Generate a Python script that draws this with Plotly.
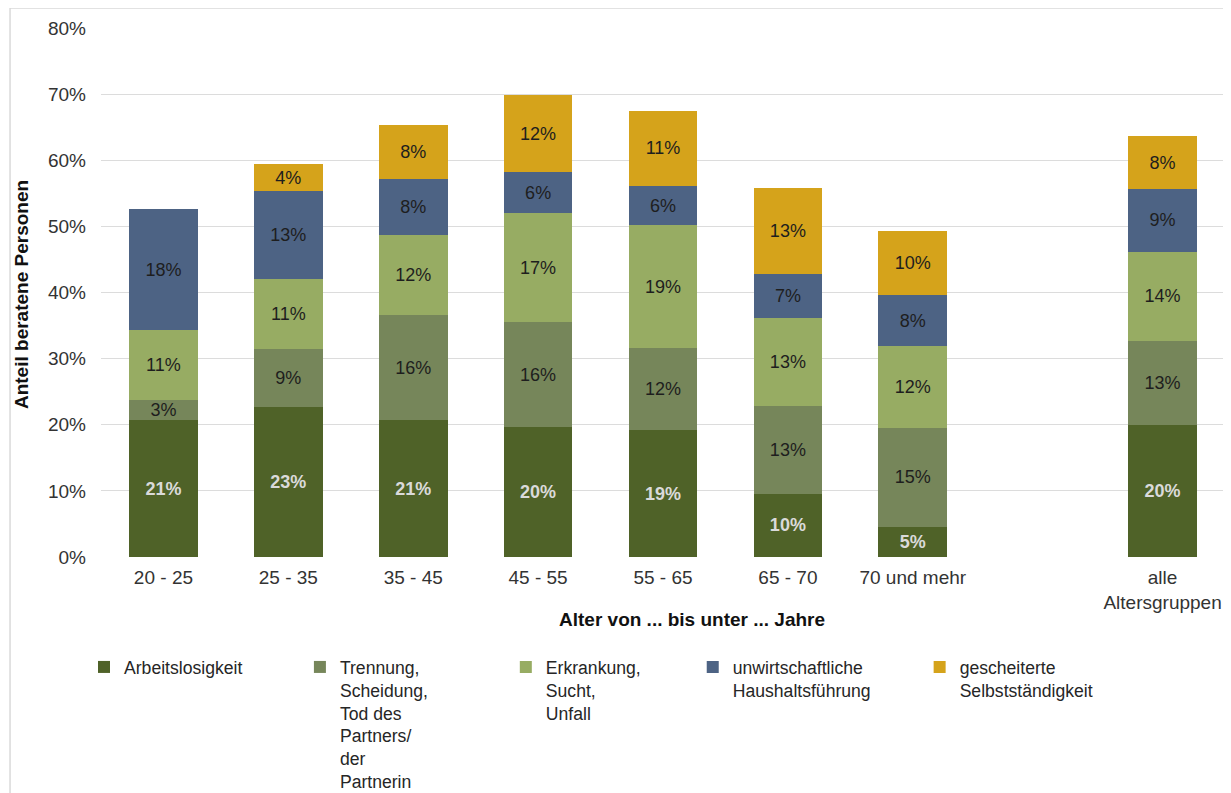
import plotly.graph_objects as go

categories = ["20 - 25", "25 - 35", "35 - 45", "45 - 55", "55 - 65", "65 - 70",
              "70 und mehr", " ", "alle<br>Altersgruppen"]
arbeitslosigkeit = [20.7, 22.7, 20.7, 19.6, 19.2, 9.6, 4.6, None, 20.0]
trennung = [3.0, 8.7, 15.9, 15.9, 12.4, 13.2, 14.9, None, 12.6]
erkrankung = [10.6, 10.6, 12.1, 16.5, 18.6, 13.4, 12.4, None, 13.6]
haushalt = [18.3, 13.3, 8.4, 6.2, 5.9, 6.6, 7.7, None, 9.4]
selbst = [None, 4.1, 8.3, 11.6, 11.4, 13.0, 9.7, None, 8.1]

series_names = ["Arbeitslosigkeit",
                "Trennung,<br>Scheidung,<br>Tod des<br>Partners/<br>der<br>Partnerin",
                "Erkrankung,<br>Sucht,<br>Unfall",
                "unwirtschaftliche<br>Haushaltsführung",
                "gescheiterte<br>Selbstständigkeit"]
series_values = [arbeitslosigkeit, trennung, erkrankung, haushalt, selbst]
colors = ["#4F6228", "#76865A", "#97AC63", "#4D6384", "#D5A31B"]
label_colors = ["#DADADA", "#1E1E1E", "#1E1E1E", "#1E1E1E", "#1E1E1E"]
label_weights = ["bold", "normal", "normal", "normal", "normal"]
legend_ids = ["legend", "legend2", "legend3", "legend4", "legend5"]

FONT = "Liberation Sans, Arial, sans-serif"
OFF = 8  # page body margin offset
W, H = 1231 - OFF, 793 - OFF
L = 101 - OFF
R = W - (1225.5 - OFF)
T = 28 - OFF
B = H - (557 - OFF)
PW, PH = W - L - R, H - T - B


def px_x(p):
    return (p - OFF - L) / PW


def px_y(p):
    return (557 - p) / PH


fig = go.Figure()
for name, vals, col, lc, lw, lid in zip(series_names, series_values, colors,
                                         label_colors, label_weights, legend_ids):
    fig.add_trace(go.Bar(
        x=categories, y=vals, name=name, marker=dict(color=col, line=dict(width=0)),
        texttemplate="%{y:.0f}%", textposition="inside", insidetextanchor="middle",
        textangle=0, textfont=dict(family=FONT, size=18, color=lc, weight=lw),
        legend=lid, hoverinfo="skip"))

# legend text starts (reference px)
legend_text_x = [124, 340, 546, 733, 960]
legend_cfg = {}
for lid, tx in zip(legend_ids, legend_text_x):
    legend_cfg[lid] = dict(
        x=px_x(tx - 40), xanchor="left",
        y=px_y(649), yanchor="top",
        orientation="v", valign="top",
        font=dict(family=FONT, size=17.6, color="#262626"),
        bgcolor="rgba(0,0,0,0)", itemclick=False, itemdoubleclick=False)

fig.update_layout(
    width=W, height=H,
    margin=dict(l=L, r=R, t=T, b=B, autoexpand=False),
    barmode="stack", bargap=0.45,
    plot_bgcolor="white", paper_bgcolor="white",
    font=dict(family=FONT, size=19, color="#333333"),
    uniformtext=dict(minsize=18, mode="show"),
    showlegend=True,
    **legend_cfg,
    xaxis=dict(categoryorder="array", categoryarray=categories,
               tickfont=dict(family=FONT, size=19, color="#333333"),
               showgrid=False, showline=False, ticks="", ticklabelstandoff=7,
               zeroline=False, fixedrange=True),
    yaxis=dict(range=[0, 80], dtick=10, ticksuffix="%",
               tickfont=dict(family=FONT, size=19, color="#333333"),
               gridcolor="#DCDCDC", gridwidth=1, zeroline=False,
               showline=False, ticks="", ticklabelstandoff=14, fixedrange=True),
    annotations=[
        dict(text="<b>Alter von ... bis unter ... Jahre</b>", xref="paper", yref="paper",
             x=px_x(692), y=px_y(619), showarrow=False, xanchor="center", yanchor="middle",
             font=dict(family=FONT, size=19, color="#111111")),
        dict(text="<b>Anteil beratene Personen</b>", xref="paper", yref="paper",
             x=px_x(22), y=px_y(295), showarrow=False, xanchor="center", yanchor="middle",
             textangle=-90, font=dict(family=FONT, size=19, color="#111111")),
    ],
    shapes=[dict(type="rect", xref="paper", yref="paper",
                 x0=px_x(10), x1=px_x(1227), y0=px_y(805), y1=px_y(8),
                 line=dict(color="#D9D9D9", width=1.5), fillcolor="rgba(0,0,0,0)",
                 layer="below")],
)

fig.write_html("out.html")
